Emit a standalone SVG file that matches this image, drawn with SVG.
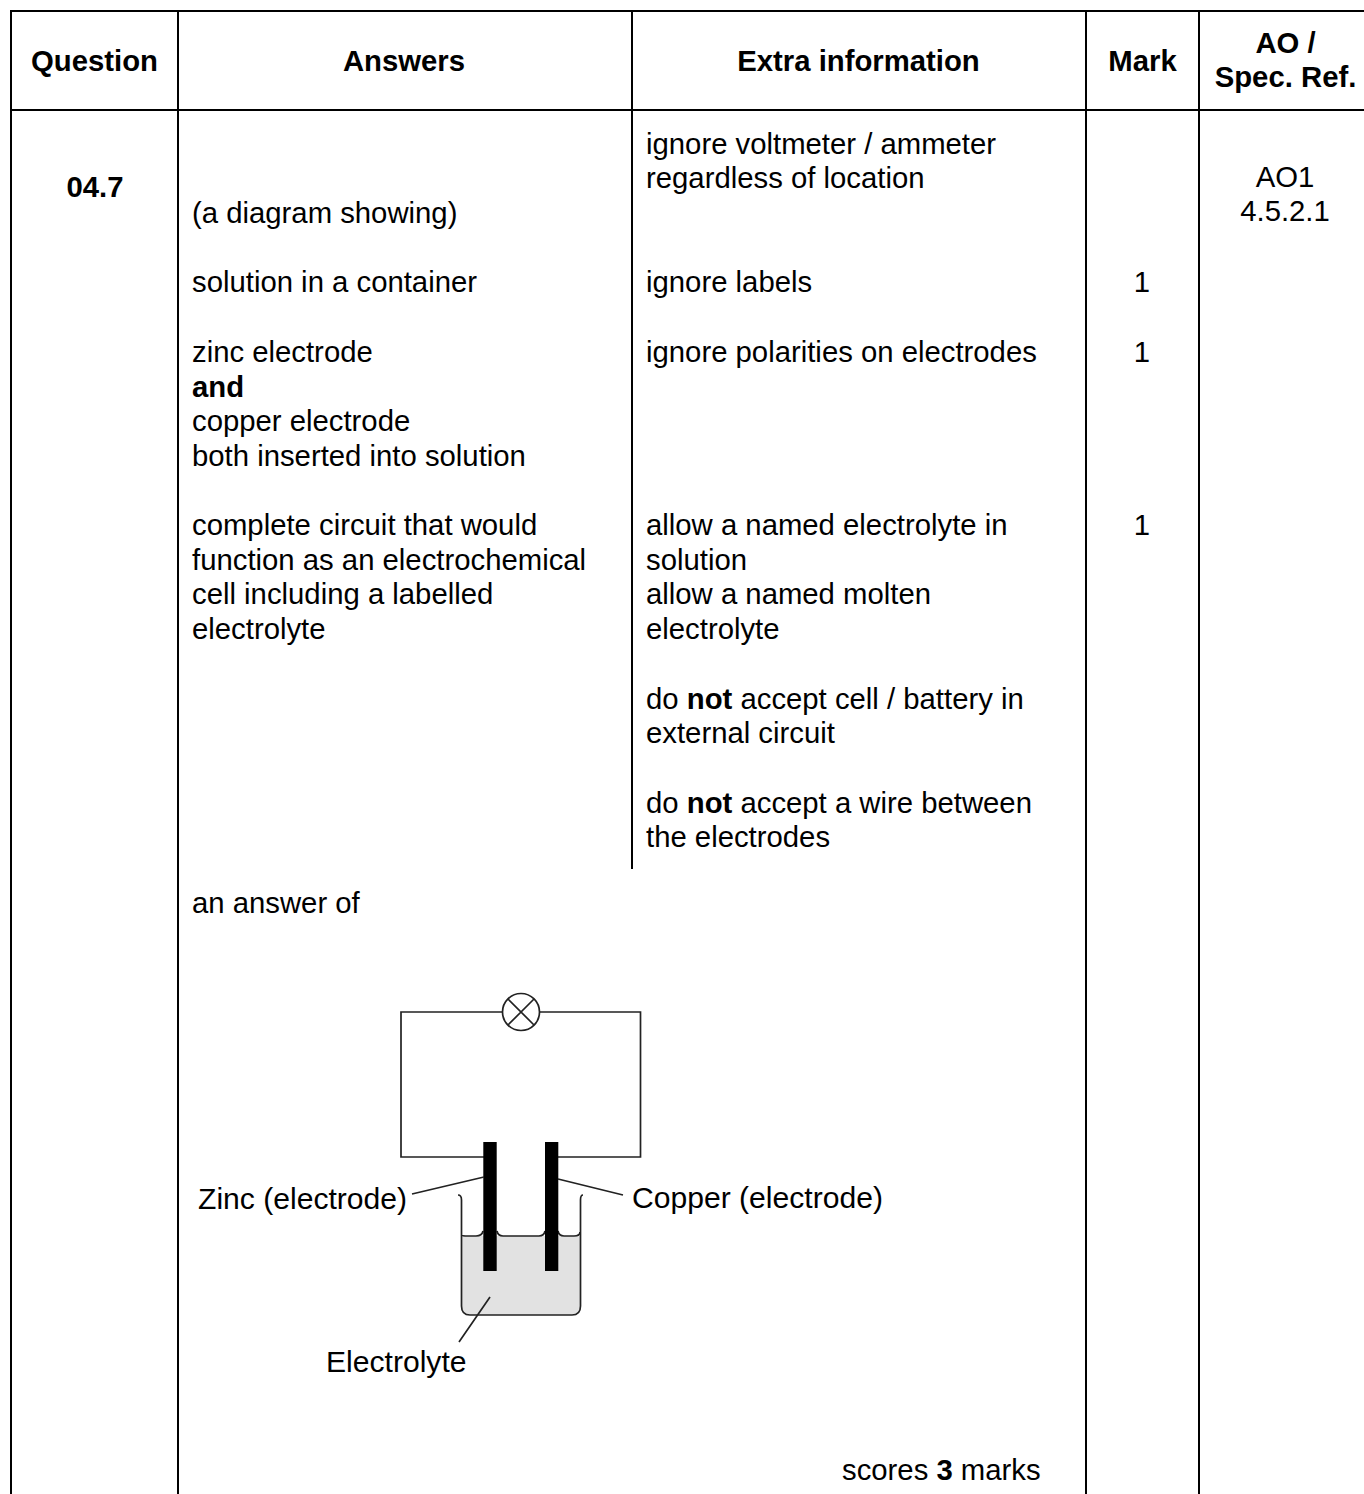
<svg xmlns="http://www.w3.org/2000/svg" width="1364" height="1494" viewBox="0 0 1364 1494">
<style>
text{font-family:"Liberation Sans",Arial,sans-serif;font-size:29.3px;fill:#000}
.b{font-weight:bold}
.m{text-anchor:middle}
.d{font-size:30.1px}
.l{stroke:#000;stroke-width:2;fill:none}
.t{stroke:#222;stroke-width:1.7;fill:none}
</style>
<rect width="1364" height="1494" fill="#fff"/>
<g id="table" class="l">
<path d="M10 11H1364M10 110H1364M11 10V1494M178 10V1494M632 10V869M1086 10V1494M1199 10V1494"/>
</g>
<g id="text">
<text class="b m" x="94.500" y="71">Question</text>
<text class="b m" x="404" y="71">Answers</text>
<text class="b m" x="858.500" y="71">Extra information</text>
<text class="b m" x="1142.500" y="71">Mark</text>
<text class="b m" x="1285.500" y="53">AO /</text>
<text class="b m" x="1285.500" y="87">Spec. Ref.</text>
<text class="b m" x="95" y="197">04.7</text>
<text x="192" y="223">(a diagram showing)</text>
<text x="192" y="292">solution in a container</text>
<text x="192" y="362">zinc electrode</text>
<text class="b" x="192" y="397">and</text>
<text x="192" y="431">copper electrode</text>
<text x="192" y="466">both inserted into solution</text>
<text x="192" y="535">complete circuit that would</text>
<text x="192" y="570">function as an electrochemical</text>
<text x="192" y="604">cell including a labelled</text>
<text x="192" y="639">electrolyte</text>
<text x="192" y="913">an answer of</text>
<text x="646" y="154">ignore voltmeter / ammeter</text>
<text x="646" y="188">regardless of location</text>
<text x="646" y="292">ignore labels</text>
<text x="646" y="362">ignore polarities on electrodes</text>
<text x="646" y="535">allow a named electrolyte in</text>
<text x="646" y="570">solution</text>
<text x="646" y="604">allow a named molten</text>
<text x="646" y="639">electrolyte</text>
<text x="646" y="709">do <tspan class="b">not</tspan> accept cell / battery in</text>
<text x="646" y="743">external circuit</text>
<text x="646" y="813">do <tspan class="b">not</tspan> accept a wire between</text>
<text x="646" y="847">the electrodes</text>
<text class="m" x="1142" y="292">1</text>
<text class="m" x="1142" y="362">1</text>
<text class="m" x="1142" y="535">1</text>
<text class="m" x="1285" y="187">AO1</text>
<text class="m" x="1285" y="221">4.5.2.1</text>
<text x="842" y="1480">scores <tspan class="b">3</tspan> marks</text>
</g>
<g id="cell">
<path d="M462 1236H580V1306Q580 1315 571 1315H471Q462 1315 462 1306Z" fill="#e2e2e2" stroke="none"/>
<path class="t" d="M462 1235Q462 1236 468 1236H476Q482 1236 483 1231M497 1231Q498 1236 503 1236H539Q544 1236 545 1231M558 1231Q559 1236 564 1236H574Q580 1236 580 1232"/>
<path class="t" d="M458 1195Q461.500 1195 461.500 1200V1306Q461.500 1315 470 1315H572Q580.500 1315 580.500 1306V1200Q580.500 1195 583 1195"/>
<path class="t" d="M484 1157H401V1012H502M540 1012H640.500V1157H558"/>
<circle class="t" cx="521" cy="1012" r="18.500"/>
<path class="t" d="M508 999L534 1025M534 999L508 1025"/>
<rect x="483.300" y="1142" width="13.400" height="129" fill="#000"/>
<rect x="545" y="1142" width="13.300" height="129" fill="#000"/>
<path class="t" d="M412 1194L484 1177M558 1179L623 1195M490 1297L459 1342"/>
<text class="d" x="198" y="1209">Zinc (electrode)</text>
<text class="d" x="632" y="1208">Copper (electrode)</text>
<text class="d" x="326" y="1372">Electrolyte</text>
</g>
</svg>
